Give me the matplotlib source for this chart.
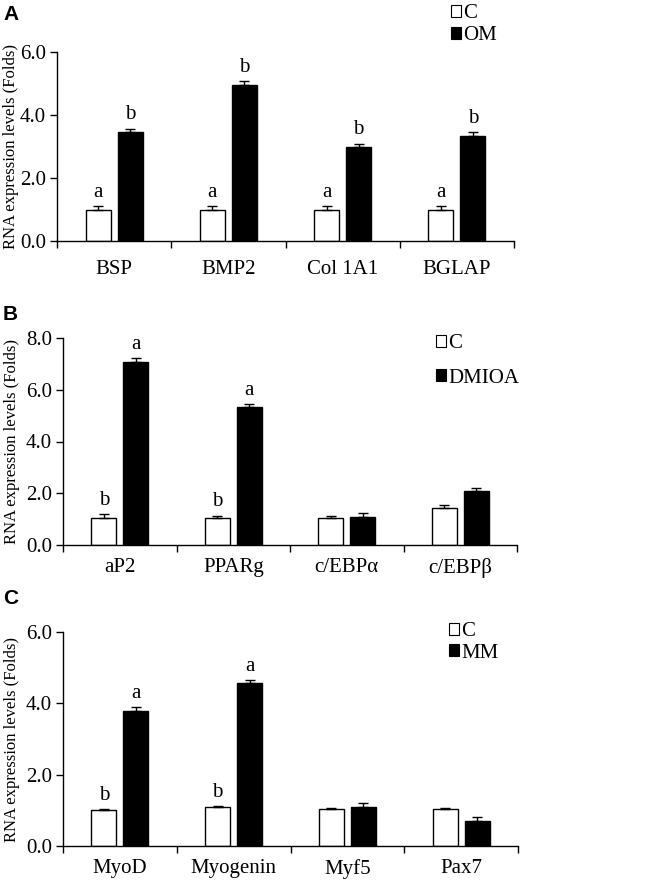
import matplotlib
matplotlib.use("Agg")
import matplotlib.pyplot as plt
import numpy as np
from matplotlib.patches import Patch

plt.rcParams['font.family'] = ['Liberation Serif', 'DejaVu Serif']

# ---- Data ----
genes_A = ["BSP", "BMP2", "Col 1A1", "BGLAP"]
ctrl_A = [1.0, 1.0, 1.0, 1.0]
ctrl_A_err = [0.12, 0.12, 0.12, 0.12]
trt_A = [3.47, 4.95, 2.97, 3.34]
trt_A_err = [0.10, 0.12, 0.12, 0.12]
sig_ctrl_A = ["a", "a", "a", "a"]
sig_trt_A = ["b", "b", "b", "b"]
label_trt_A = "OM"

genes_B = ["aP2", "PPARg", "c/EBPα", "c/EBPβ"]
ctrl_B = [1.03, 1.03, 1.03, 1.42]
ctrl_B_err = [0.16, 0.11, 0.11, 0.13]
trt_B = [7.08, 5.33, 1.10, 2.07]
trt_B_err = [0.15, 0.13, 0.13, 0.13]
sig_ctrl_B = ["b", "b", "", ""]
sig_trt_B = ["a", "a", "", ""]
label_trt_B = "DMIOA"

genes_C = ["MyoD", "Myogenin", "Myf5", "Pax7"]
ctrl_C = [1.01, 1.10, 1.04, 1.04]
ctrl_C_err = [0.03, 0.03, 0.03, 0.03]
trt_C = [3.79, 4.57, 1.10, 0.69]
trt_C_err = [0.10, 0.09, 0.11, 0.11]
sig_ctrl_C = ["b", "b", "", ""]
sig_trt_C = ["a", "a", "", ""]
label_trt_C = "MM"

yticks_A = [0, 2, 4, 6]
yticks_B = [0, 2, 4, 6, 8]
yticks_C = [0, 2, 4, 6]

W, H = 653, 882
fig = plt.figure(figsize=(W/100, H/100), dpi=100)

def fx(px):
    return px / W

def fy(py):
    return 1 - py / H

TICK_FS = 15
YLAB_FS = 12

def panel(rect, genes, ctrl, ctrl_err, trt, trt_err, sig_c, sig_t, yticks, trt_label,
          letter, letter_xy, leg_xy, leg_spacing, ylab_x, xpad):
    ax = fig.add_axes(rect)
    n = len(genes)
    centers = np.arange(n) + 0.5
    w = 0.22
    off = 0.14
    zeros = np.zeros(n)
    ax.bar(centers - off, ctrl, w, color='white', edgecolor='black', linewidth=1.0,
           yerr=[zeros, ctrl_err], capsize=3.5,
           error_kw=dict(ecolor='black', elinewidth=1.0, capthick=1.0), zorder=2)
    ax.bar(centers + off, trt, w, color='black', edgecolor='black', linewidth=1.0,
           yerr=[zeros, trt_err], capsize=3.5,
           error_kw=dict(ecolor='black', elinewidth=1.0, capthick=1.0), zorder=2)
    for i in range(n):
        if sig_c[i]:
            ax.annotate(sig_c[i], (centers[i] - off, ctrl[i] + ctrl_err[i]),
                        xytext=(0, 3), textcoords='offset points', ha='center',
                        va='bottom', fontsize=TICK_FS)
        if sig_t[i]:
            ax.annotate(sig_t[i], (centers[i] + off, trt[i] + trt_err[i]),
                        xytext=(0, 3), textcoords='offset points', ha='center',
                        va='bottom', fontsize=TICK_FS)
    ax.set_xlim(0, n)
    ax.set_ylim(yticks[0], yticks[-1])
    ax.set_yticks(yticks)
    ax.set_yticklabels([f"{v:.1f}" for v in yticks], fontsize=TICK_FS)
    ax.set_xticks(centers)
    ax.set_xticklabels(genes, fontsize=TICK_FS)
    ax.set_xticks(np.arange(n + 1), minor=True)
    ax.tick_params(axis='x', which='major', length=0, pad=xpad)
    ax.tick_params(axis='x', which='minor', length=5, width=1, direction='out')
    ax.tick_params(axis='y', which='major', length=5, width=1, direction='out', pad=3)
    for s in ['top', 'right']:
        ax.spines[s].set_visible(False)
    for s in ['left', 'bottom']:
        ax.spines[s].set_linewidth(1.0)
    ax.set_ylabel("RNA expression levels (Folds)", fontsize=YLAB_FS)
    ax.yaxis.set_label_coords(ylab_x, 0.5)
    handles = [Patch(facecolor='white', edgecolor='black', linewidth=0.8, label='C'),
               Patch(facecolor='black', edgecolor='black', linewidth=0.8, label=trt_label)]
    fig.legend(handles=handles, loc='upper left', bbox_to_anchor=leg_xy,
               bbox_transform=fig.transFigure, frameon=False, fontsize=TICK_FS,
               handlelength=0.5, handleheight=0.5, handletextpad=0.1,
               labelspacing=leg_spacing, borderpad=0, borderaxespad=0)
    fig.text(letter_xy[0], letter_xy[1], letter, fontsize=15, fontweight='bold',
             family='Liberation Sans', ha='left', va='center')
    return ax

# Panel A
panel([fx(57), fy(241), fx(514 - 57), (241 - 52) / H], genes_A, ctrl_A, ctrl_A_err,
      trt_A, trt_A_err, sig_ctrl_A, sig_trt_A, yticks_A, label_trt_A,
      "A", (fx(3), fy(14)), (fx(451), fy(4)), 0.15, (19 - 57) / 457, 14)
# Panel B
panel([fx(63), fy(545), fx(517 - 63), (545 - 338) / H], genes_B, ctrl_B, ctrl_B_err,
      trt_B, trt_B_err, sig_ctrl_B, sig_trt_B, yticks_B, label_trt_B,
      "B", (fx(3), fy(315)), (fx(436), fy(334)), 0.75, (20 - 63) / 454, 9.5)
# Panel C
panel([fx(63), fy(846), fx(518 - 63), (846 - 632) / H], genes_C, ctrl_C, ctrl_C_err,
      trt_C, trt_C_err, sig_ctrl_C, sig_trt_C, yticks_C, label_trt_C,
      "C", (fx(3), fy(598)), (fx(449), fy(622)), 0.12, (20 - 63) / 455, 9.5)

fig.savefig("out.png", dpi=100)
